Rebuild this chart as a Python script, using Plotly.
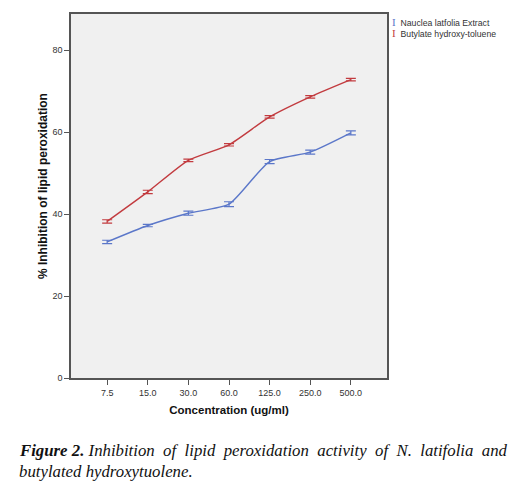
import plotly.graph_objects as go

categories = ["7.5", "15.0", "30.0", "60.0", "125.0", "250.0", "500.0"]
nauclea = [33.2, 37.2, 40.2, 42.4, 52.8, 55.1, 59.8]
nauclea_err = [0.4, 0.3, 0.5, 0.6, 0.5, 0.5, 0.5]
bht = [38.2, 45.4, 53.1, 56.9, 63.7, 68.6, 72.8]
bht_err = [0.4, 0.4, 0.3, 0.3, 0.3, 0.3, 0.3]
series_names = ["Nauclea latfolia Extract", "Butylate hydroxy-toluene"]
blue = "#5b77c9"
red = "#c23b3f"

fig = go.Figure()
for name, vals, errs, col in [(series_names[0], nauclea, nauclea_err, blue),
                              (series_names[1], bht, bht_err, red)]:
    fig.add_trace(go.Scatter(
        x=categories, y=vals, mode="lines", name=name,
        line=dict(color=col, width=1.4, shape="spline", smoothing=0.6),
        error_y=dict(type="data", array=errs, visible=True, color=col,
                     thickness=1.2, width=5),
        showlegend=False))

fig.update_layout(
    width=524, height=490,
    margin=dict(l=71, r=137, t=14, b=112, autoexpand=False),
    paper_bgcolor="white", plot_bgcolor="#f0f0f0",
    font=dict(family="Liberation Sans, Arial, sans-serif", color="#222"),
)
fig.update_xaxes(
    type="category", range=[-0.89, 6.89], automargin=False,
    showgrid=False, zeroline=False,
    showline=True, linecolor="#555", linewidth=1.5, mirror=True,
    ticks="outside", ticklen=5, tickcolor="#555",
    tickfont=dict(size=9, color="#333"),
    title=dict(text="<b>Concentration (ug/ml)</b>", font=dict(size=11.5, color="#111"),
               standoff=9),
)
fig.update_yaxes(
    range=[0, 88.8], tickvals=[0, 20, 40, 60, 80], automargin=False,
    showgrid=False, zeroline=False,
    showline=True, linecolor="#555", linewidth=1.5, mirror=True,
    ticks="outside", ticklen=5, tickcolor="#555",
    tickfont=dict(size=9, color="#333"),
)
# y-axis title (placed like the original, slightly above the axis centre)
fig.add_annotation(xref="paper", yref="paper", x=-0.089, y=0.527,
                   xanchor="center", yanchor="middle", textangle=-90,
                   text="<b>% Inhibition of lipid peroxidation</b>", showarrow=False,
                   font=dict(size=12, color="#111"))

# legend (drawn as text, as in the original error-bar legend)
legend_lines = [
    f"<span style=\"font-family:'Liberation Serif';font-size:11px;color:{col}\">I</span>&#160; {name}"
    for name, col in zip(series_names, [blue, red])
]
fig.add_annotation(xref="paper", yref="paper", x=1.01, y=1.0, xanchor="left",
                   yanchor="top", align="left", text="<br>".join(legend_lines),
                   showarrow=False, font=dict(size=8.7, color="#333"))

caption1 = "<i><b>Figure 2.</b> Inhibition&#160; of&#160; lipid&#160; peroxidation&#160; activity&#160; of&#160; N.&#160; latifolia&#160; and</i>"
caption2 = "<i>butylated hydroxytuolene.</i>"
fig.add_annotation(xref="paper", yref="paper", x=-0.17, y=-0.2, xanchor="left",
                   yanchor="middle", text=caption1, showarrow=False,
                   font=dict(family="Liberation Serif, serif", size=16.8, color="#111"))
fig.add_annotation(xref="paper", yref="paper", x=-0.17, y=-0.258, xanchor="left",
                   yanchor="middle", text=caption2, showarrow=False,
                   font=dict(family="Liberation Serif, serif", size=16.8, color="#111"))

fig.write_html("out.html", config={"displayModeBar": False},
               post_script="document.body.style.margin='0';document.body.style.overflow='hidden';")
